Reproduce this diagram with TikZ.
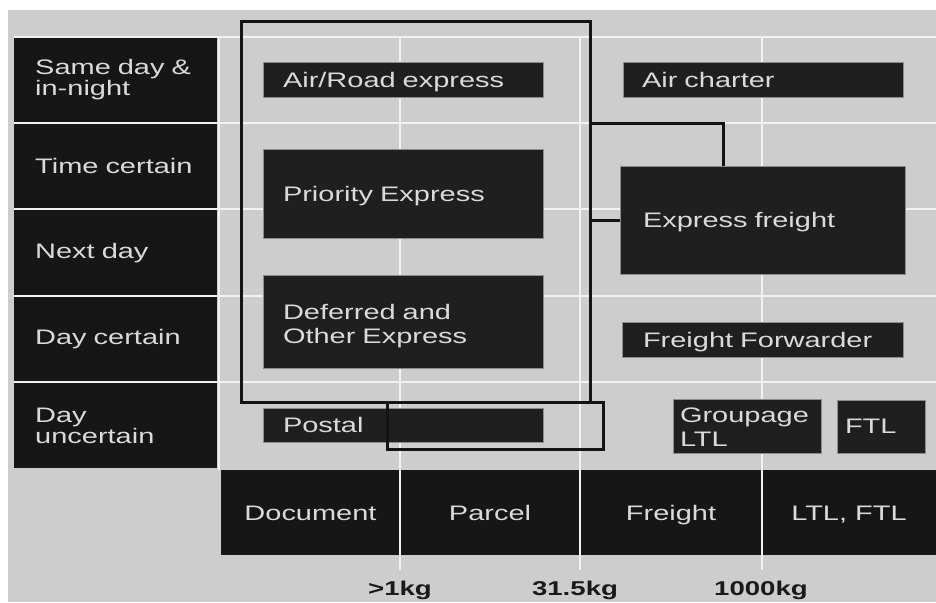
\documentclass[tikz,border=0pt]{standalone}
\usepackage{fontspec}
\newfontfamily\lblfont[FakeStretch=1.38]{Liberation Sans}
\definecolor{bgc}{HTML}{CDCDCD}
\definecolor{cellc}{HTML}{161616}
\definecolor{boxc}{HTML}{1F1F1F}
\definecolor{txtc}{HTML}{DADADA}
\definecolor{gridc}{HTML}{F2F2F2}
\definecolor{framec}{HTML}{141414}
\definecolor{tickc}{HTML}{1A1A1A}
\begin{document}
\begin{tikzpicture}[x=1pt,y=-1pt,
  rowlbl/.style={fill=cellc, draw=none, anchor=north west, minimum width=203pt,
    inner xsep=21pt, inner ysep=0pt, text width=161pt, align=left, text=txtc,
    font=\lblfont\fontsize{21}{18}\selectfont},
  bandcell/.style={fill=cellc, draw=none, minimum height=85pt, inner sep=0pt,
    text height=15pt, text depth=0pt,
    align=center, text=txtc, font=\lblfont\fontsize{21}{24}\selectfont},
  boxm/.style={fill=boxc, draw=black!45, line width=0.6pt, inner ysep=0pt,
    align=left, text=txtc, font=\lblfont\fontsize{21}{24}\selectfont},
  boxn/.style={boxm, text depth=0pt},
  gridl/.style={draw=gridc, line width=2pt},
  framen/.style={draw=framec, line width=3pt, fill=none, inner sep=0pt},
  framel/.style={draw=framec, line width=3pt},
  tick/.style={text=tickc, inner sep=0pt, font=\lblfont\bfseries\fontsize{20}{24}\selectfont}
]
\useasboundingbox (0,0) rectangle (936,602);
\fill[white] (0,0) rectangle (936,602);
\fill[bgc] (8,10) rectangle (936,602);

% row label column
\node[rowlbl, minimum height=85pt] (r1) at (14,37) {Same day \&\\in-night};
\node[rowlbl, minimum height=84pt] (r2) at (14,124) {Time certain};
\node[rowlbl, minimum height=85pt] (r3) at (14,210) {Next day};
\node[rowlbl, minimum height=84pt] (r4) at (14,297) {Day certain};
\node[rowlbl, minimum height=85pt] (r5) at (14,383) {Day\\uncertain};

% bottom band
\node[bandcell, minimum width=179pt] (doc) at (310.5,512.5) {Document};
\node[bandcell, minimum width=180pt] (par) at (490,512.5) {Parcel};
\node[bandcell, minimum width=182pt] (frt) at (671,512.5) {Freight};
\node[bandcell, minimum width=174pt] (ltl) at (849,512.5) {LTL, FTL};

% grid lines
\foreach \yy in {37,123,209,296,382} \draw[gridl] (14,\yy) -- (936,\yy);
\foreach \xx in {400,580,762} \draw[gridl] (\xx,37) -- (\xx,570);
\draw[gridl] (219,37) -- (219,470);

% boxes
\node[boxn, minimum width=280pt, minimum height=35pt, inner xsep=20pt, text width=240pt] (are) at (403,79.5) {Air/Road express};
\node[boxn, minimum width=280pt, minimum height=35pt, inner xsep=19pt, text width=242pt] (ac) at (763,79.5) {Air charter};
\node[boxn, minimum width=280pt, minimum height=89pt, inner xsep=20pt, text width=240pt] (pe) at (403,193.5) {Priority Express};
\node[boxm, minimum width=280pt, minimum height=93pt, inner xsep=20pt, text width=240pt, text depth=20pt] (doe) at (403,321.5) {Deferred and\\Other Express};
\node[boxn, minimum width=285pt, minimum height=108pt, inner xsep=23pt, text width=239pt] (ef) at (762.5,220) {Express freight};
\node[boxn, minimum width=281pt, minimum height=35pt, inner xsep=21pt, text width=239pt] (ff) at (762.5,339.5) {Freight Forwarder};
\node[boxn, minimum width=280pt, minimum height=34pt, inner xsep=20pt, text width=240pt] (pst) at (403,425) {Postal};
\node[boxm, minimum width=148pt, minimum height=54pt, inner xsep=7pt, text width=134pt, text depth=21pt] (grl) at (747,426) {Groupage\\LTL};
\node[boxn, minimum width=88pt, minimum height=53pt, inner xsep=8pt, text width=72pt] (ftl) at (881,426.5) {FTL};

% frames and connectors
\node[framen, minimum width=349pt, minimum height=380pt] (grp) at (415.5,212) {};
\node[framen, minimum width=216pt, minimum height=47pt] (pf) at (495,425.5) {};
\coordinate (bend) at (723,123);
\draw[framel] (grp.east |- bend) -- (bend) -- (bend |- ef.north);
\draw[framel] (grp.east |- ef.west) -- (ef.west);

% weight ticks
\node[tick] (t1) at (400,590) {>1kg};
\node[tick] (t2) at (575,590) {31.5kg};
\node[tick] (t3) at (761,590) {1000kg};
\end{tikzpicture}
\end{document}
